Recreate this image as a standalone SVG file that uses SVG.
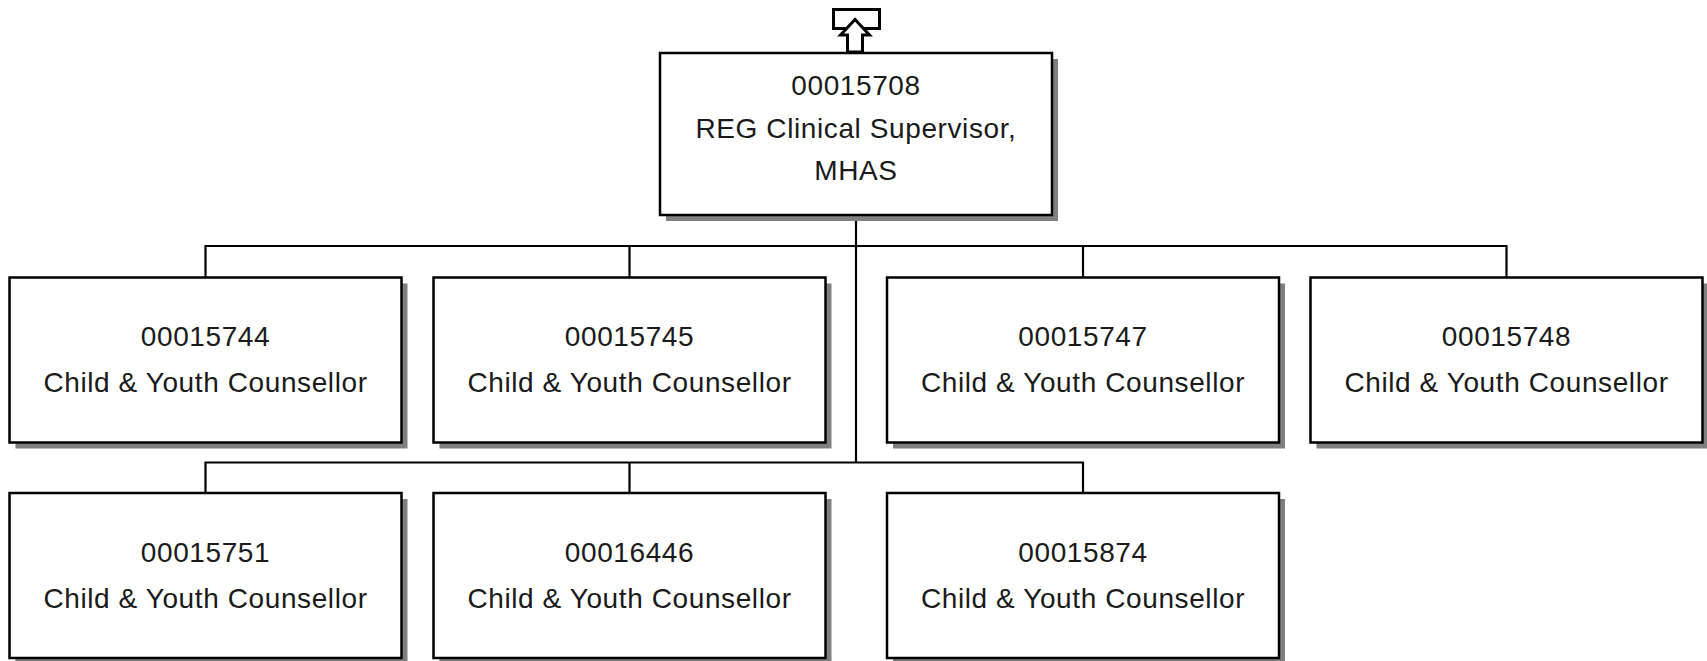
<svg xmlns="http://www.w3.org/2000/svg" width="1707" height="661" viewBox="0 0 1707 661">
<defs>
<style>
.shadow{fill:#808080;stroke:none}
.box{fill:#ffffff;stroke:#000000;stroke-width:2.5}
.t{font-family:"Liberation Sans",Arial,sans-serif;font-size:28px;letter-spacing:0.6px;fill:#1a1a1a;text-anchor:middle}
.conn{fill:none;stroke:#000000;stroke-width:2.2}
.icon{fill:#ffffff;stroke:#000000;stroke-width:3;stroke-linejoin:miter}
</style>
</defs>
<rect width="1707" height="661" fill="#ffffff"/>
<g id="connectors">
<path class="conn" d="M856 215 V463"/>
<path class="conn" d="M205.5 277.5 V246 H1506.5 V277.5 M629.5 246 V277.5 M1083 246 V277.5"/>
<path class="conn" d="M205.5 493 V462.5 H1083 V493 M629.5 462.5 V493"/>
</g>
<g id="n00015708">
<rect class="shadow" x="666" y="59" width="392" height="162"/>
<rect class="box" x="660" y="53" width="392" height="162"/>
<rect class="icon" x="833.5" y="9.5" width="46" height="19"/>
<polygon class="icon" points="855,19.5 840.5,35 847.5,35 847.5,52 862.5,52 862.5,35 869.5,35"/>
<text class="t" x="856" y="95">00015708</text>
<text class="t" x="856" y="138">REG Clinical Supervisor,</text>
<text class="t" x="856" y="180">MHAS</text>
</g>
<g id="n00015744">
<rect class="shadow" x="15.5" y="283.5" width="392" height="165"/>
<rect class="box" x="9.5" y="277.5" width="392" height="165"/>
<text class="t" x="205.5" y="346">00015744</text>
<text class="t" x="205.5" y="392">Child &amp; Youth Counsellor</text>
</g>
<g id="n00015745">
<rect class="shadow" x="439.5" y="283.5" width="392" height="165"/>
<rect class="box" x="433.5" y="277.5" width="392" height="165"/>
<text class="t" x="629.5" y="346">00015745</text>
<text class="t" x="629.5" y="392">Child &amp; Youth Counsellor</text>
</g>
<g id="n00015747">
<rect class="shadow" x="893" y="283.5" width="392" height="165"/>
<rect class="box" x="887" y="277.5" width="392" height="165"/>
<text class="t" x="1083" y="346">00015747</text>
<text class="t" x="1083" y="392">Child &amp; Youth Counsellor</text>
</g>
<g id="n00015748">
<rect class="shadow" x="1316.5" y="283.5" width="392" height="165"/>
<rect class="box" x="1310.5" y="277.5" width="392" height="165"/>
<text class="t" x="1506.5" y="346">00015748</text>
<text class="t" x="1506.5" y="392">Child &amp; Youth Counsellor</text>
</g>
<g id="n00015751">
<rect class="shadow" x="15.5" y="499" width="392" height="165"/>
<rect class="box" x="9.5" y="493" width="392" height="165"/>
<text class="t" x="205.5" y="562">00015751</text>
<text class="t" x="205.5" y="608">Child &amp; Youth Counsellor</text>
</g>
<g id="n00016446">
<rect class="shadow" x="439.5" y="499" width="392" height="165"/>
<rect class="box" x="433.5" y="493" width="392" height="165"/>
<text class="t" x="629.5" y="562">00016446</text>
<text class="t" x="629.5" y="608">Child &amp; Youth Counsellor</text>
</g>
<g id="n00015874">
<rect class="shadow" x="893" y="499" width="392" height="165"/>
<rect class="box" x="887" y="493" width="392" height="165"/>
<text class="t" x="1083" y="562">00015874</text>
<text class="t" x="1083" y="608">Child &amp; Youth Counsellor</text>
</g>
</svg>
